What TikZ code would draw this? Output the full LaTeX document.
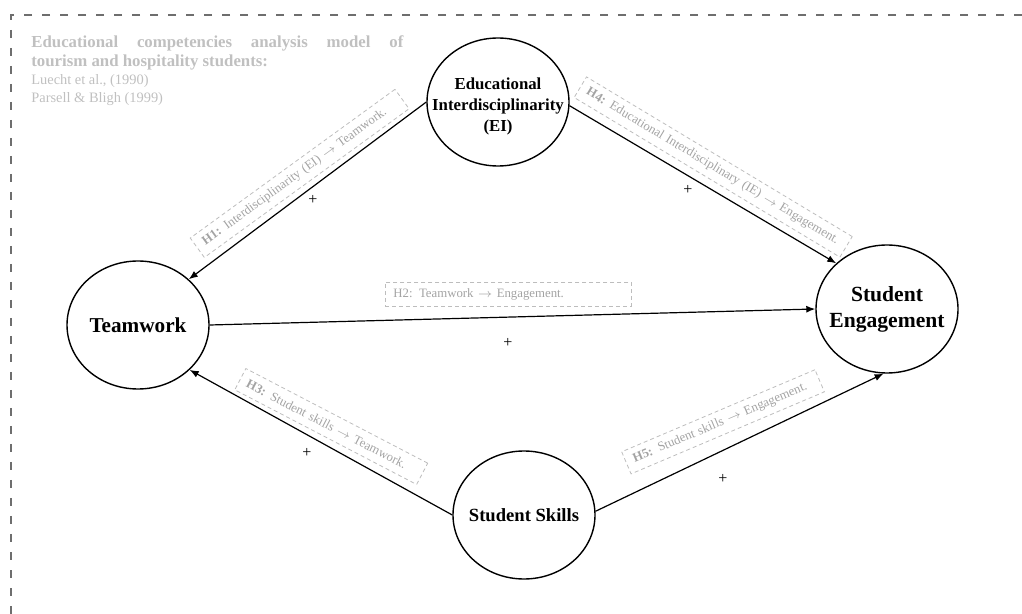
\documentclass[tikz,border=0pt]{standalone}
\usepackage{fontspec}
\setmainfont{Liberation Serif}
\usepackage{tikz}
\usetikzlibrary{arrows.meta,shapes.geometric,positioning}
\definecolor{framegray}{HTML}{6E6E6E}
\definecolor{boxgray}{HTML}{BDBDBD}
\definecolor{hyptext}{HTML}{A3A3A3}
\definecolor{titlegray}{HTML}{C0C0C0}
\tikzset{
  construct/.style={ellipse,draw,line width=0.7pt,minimum width=71pt,minimum height=64pt,inner sep=0pt},
  link/.style={-{Latex[length=4.5pt,width=3.5pt]},line width=0.6pt},
  hyp/.style={draw=boxgray,dash pattern=on 2pt off 1.5pt,line width=0.4pt,text=hyptext,
    font=\fontsize{6.4}{7}\selectfont,inner xsep=4pt,inner ysep=0pt,minimum height=12pt,
    align=left,anchor=west},
  sign/.style={font=\fontsize{8}{8}\selectfont,inner sep=0pt},
  outerframe/.style={draw=framegray,line width=1pt,dash pattern=on 4pt off 5pt},
  conceptfont/.style={font=\bfseries,align=center}
}

\begin{document}
\begin{tikzpicture}[x=0.5pt,y=-0.5pt]
  \useasboundingbox (0,0) rectangle (1022,614);
  \draw[outerframe] (1022,15) -- (11,15) -- (11,614);
  \node[anchor=north west,inner sep=0pt,text=titlegray] (source) at (31,35) {\parbox{186pt}{%
    {\bfseries\fontsize{8.4}{9.5}\selectfont Educational competencies analysis model of\linebreak
    tourism and hospitality students:\par}
    {\fontsize{7.2}{9}\selectfont Luecht et al., (1990)\\ Parsell \& Bligh (1999)\par}}};

  % constructs
  \node[construct,label={[conceptfont,yshift=-2pt,font=\bfseries\fontsize{8.4}{10.5}\selectfont]center:Educational\\Interdisciplinarity\\(EI)}] (ei) at (498,102) {};
  \node[construct,label={[conceptfont,font=\bfseries\fontsize{10.6}{13}\selectfont]center:Teamwork}] (tw) at (138,325) {};
  \node[construct,label={[conceptfont,font=\bfseries\fontsize{10.8}{13}\selectfont]center:Student\\Engagement}] (se) at (887,309) {};
  \node[construct,label={[conceptfont,font=\bfseries\fontsize{9.3}{11}\selectfont]center:Student Skills}] (ss) at (524,515) {};

  \draw[link] (ei.west) -- (tw.42);
  \draw[link] (ei.-3) -- (se.138);
  \draw[link] (tw.east) -- (se.west);
  \draw[link] (ss.west) -- (tw.-41);
  \draw[link] (ss.3) -- (se.-93);

  % hypotheses
  \node[hyp,rotate=36,text width=118.5pt] (h1) at (197,248) {\textbf{H1:} Interdisciplinarity (EI) $\rightarrow$ Teamwork.};
  \node[hyp,text width=115pt] (h2) at (385,294) {H2: Teamwork $\rightarrow$ Engagement.};
  \node[hyp,rotate=-27.5,text width=94.5pt] (h3) at (240,379) {\textbf{H3:} Student skills $\rightarrow$ Teamwork.};
  \node[hyp,rotate=-31,text width=147pt] (h4) at (580,87) {\textbf{H4:} Educational Interdisciplinary (IE) $\rightarrow$ Engagement.};
  \node[hyp,rotate=23,text width=97pt] (h5) at (626,463) {\textbf{H5:} Student skills $\rightarrow$ Engagement.};

  \node[sign] (s1) at (313,200) {+};
  \node[sign] (s2) at (508,343) {+};
  \node[sign] (s3) at (307,453) {+};
  \node[sign] (s4) at (688,190) {+};
  \node[sign] (s5) at (723,479) {+};
\end{tikzpicture}
\end{document}
